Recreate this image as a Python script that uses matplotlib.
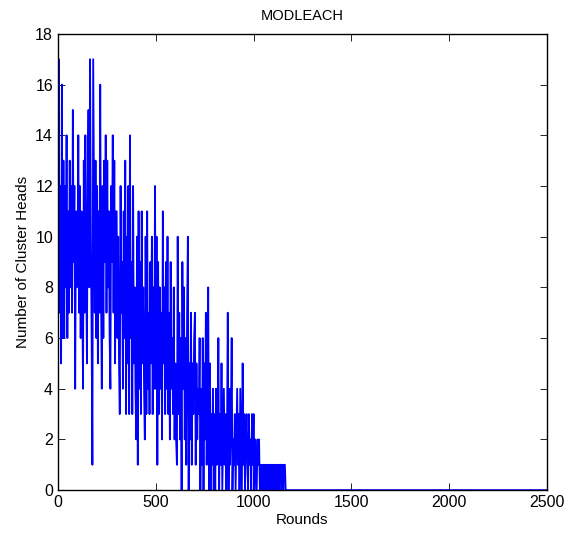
import numpy as np
import matplotlib
matplotlib.use("Agg")
from matplotlib import pyplot as plt

plt.rcParams['font.family'] = ['Liberation Sans', 'DejaVu Sans']

# number of cluster heads, read every 4 rounds from round 0 to 1164
ch_0 = [11, 17, 7, 12, 5, 16, 6, 13, 6, 12, 8, 14, 6, 11, 7, 13, 8, 12, 7, 15, 9, 12, 4, 11, 8]
ch_100 = [9, 14, 7, 12, 6, 11, 8, 4, 13, 7, 14, 9, 5, 12, 15, 8, 17, 10, 6, 1, 17, 12, 7, 13, 6]
ch_200 = [12, 5, 11, 7, 16, 8, 4, 12, 6, 13, 9, 14, 7, 13, 8, 11, 6, 4, 12, 9, 14, 7, 13, 5, 11]
ch_300 = [11, 6, 10, 5, 3, 12, 7, 9, 4, 11, 6, 13, 3, 10, 5, 12, 3, 14, 6, 9, 3, 12, 5, 8, 4]
ch_400 = [2, 10, 1, 11, 4, 9, 3, 11, 5, 8, 4, 2, 10, 3, 11, 4, 7, 3, 9, 5, 10, 3, 8, 4, 12]
ch_500 = [4, 10, 1, 9, 3, 8, 4, 7, 2, 11, 5, 8, 3, 9, 4, 10, 3, 7, 2, 9, 4, 6, 3, 8, 2]
ch_600 = [5, 2, 1, 10, 3, 7, 2, 6, 0, 9, 4, 8, 2, 6, 1, 7, 10, 0, 5, 2, 7, 1, 5, 3, 6]
ch_700 = [7, 1, 5, 2, 4, 3, 6, 0, 4, 1, 6, 0, 5, 2, 7, 1, 4, 8, 0, 5, 0, 3, 1, 4, 0]
ch_800 = [3, 0, 4, 1, 2, 6, 0, 3, 1, 5, 0, 2, 4, 1, 3, 0, 2, 7, 0, 4, 1, 3, 6, 0, 2]
ch_900 = [1, 3, 0, 2, 4, 1, 3, 0, 4, 2, 0, 5, 1, 3, 0, 2, 3, 1, 0, 3, 1, 2, 0, 3, 1]
ch_1000 = [3, 0, 2, 1, 0, 2, 1, 2, 0, 1, 0, 1, 0, 1, 1, 0, 1, 0, 1, 1, 0, 1, 0, 1, 0]
ch_1100 = [1, 0, 1, 1, 0, 1, 0, 1, 0, 1, 1, 0, 1, 0, 1, 1, 0]
# after round 1164 all nodes are dead: zero up to the last round
ch_end = [0]
last_round = 2500

ch = ch_0 + ch_100 + ch_200 + ch_300 + ch_400 + ch_500 + ch_600 + ch_700 \
    + ch_800 + ch_900 + ch_1000 + ch_1100 + ch_end
rounds = list(range(0, 4 * (len(ch) - 1), 4)) + [last_round]

fig = plt.figure(figsize=(5.74, 5.38), dpi=100)
ax = fig.add_axes([0.101, 0.089, 0.852, 0.848])

ax.plot(rounds, ch, color='b', linewidth=1.3)

ax.set_xlim(0, 2500)
ax.set_ylim(0, 18)
ax.set_xticks(range(0, 2501, 500))
ax.set_yticks(range(0, 19, 2))
ax.tick_params(direction='in', top=True, right=True, length=5, width=0.6, labelsize=11.5)
for s in ax.spines.values():
    s.set_linewidth(1.0)

ax.set_title('MODLEACH', fontsize=10.5, pad=10)
ax.set_xlabel('Rounds', fontsize=11, labelpad=2)
ax.set_ylabel('Number of Cluster Heads', fontsize=11, labelpad=4)

fig.savefig('out.png', dpi=100)
